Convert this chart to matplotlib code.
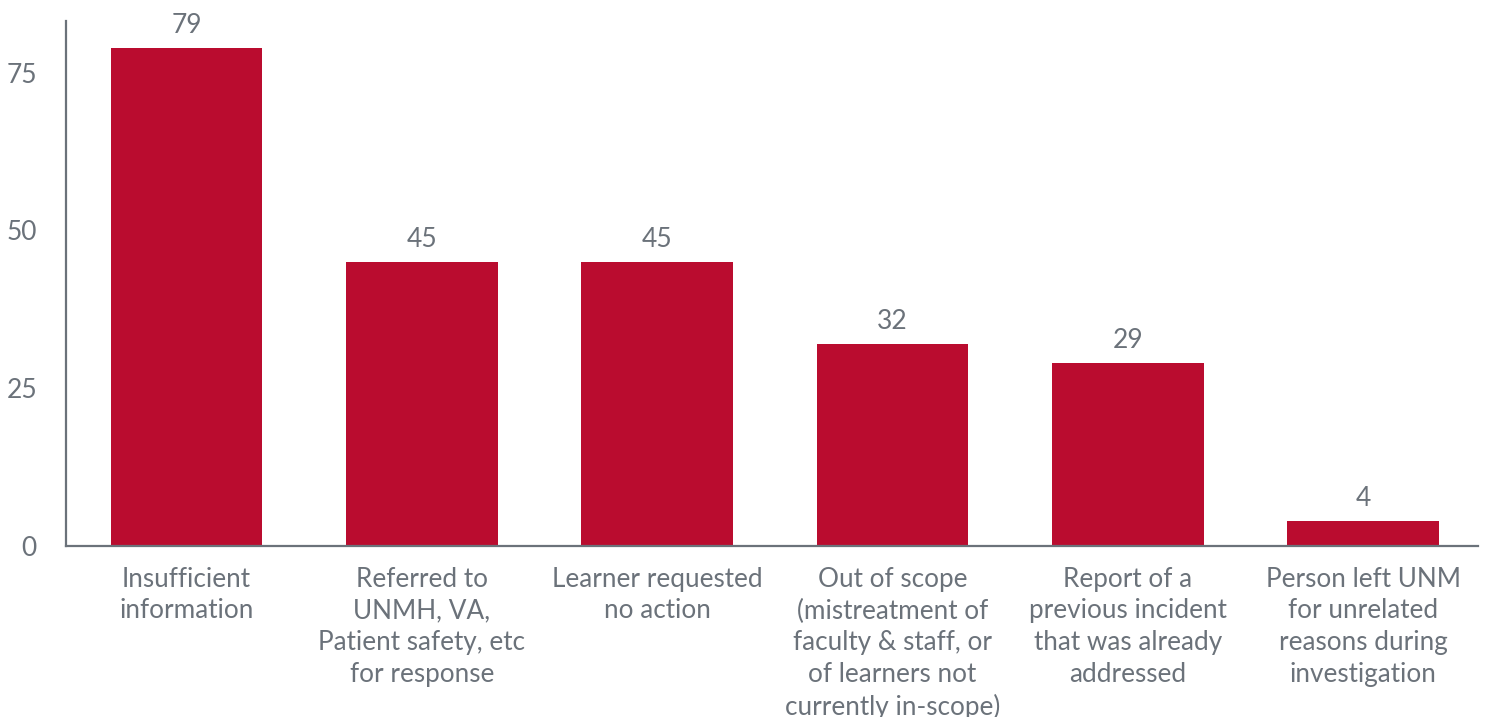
import matplotlib.pyplot as plt
import numpy as np

plt.rcParams['font.family'] = ['Lato', 'DejaVu Sans']

categories = [
    'Insufficient\ninformation',
    'Referred to\nUNMH, VA,\nPatient safety, etc\nfor response',
    'Learner requested\nno action',
    'Out of scope\n(mistreatment of\nfaculty & staff, or\nof learners not\ncurrently in-scope)',
    'Report of a\nprevious incident\nthat was already\naddressed',
    'Person left UNM\nfor unrelated\nreasons during\ninvestigation',
]
counts = [79, 45, 45, 32, 29, 4]
yticks = [0, 25, 50, 75]

bar_color = '#BA0C2F'
text_color = '#6B727A'

fig = plt.figure(figsize=(14.88, 7.17), dpi=100)
ax = fig.add_axes([0.0444, 0.2385, 0.9489, 0.7322])

x = np.arange(len(categories))
bars = ax.bar(x, counts, width=0.645, color=bar_color)

for b, v in zip(bars, counts):
    ax.annotate(str(v), (b.get_x() + b.get_width() / 2, v),
                xytext=(0, 7), textcoords='offset points',
                ha='center', va='bottom', fontsize=19, color=text_color)

ax.set_xlim(-0.512, 5.488)
ax.set_ylim(0, 83.2)
ax.set_yticks(yticks)
ax.set_xticks(x)
ax.set_xticklabels(categories, fontsize=18.8, color=text_color, linespacing=1.33)
ax.tick_params(axis='y', length=0, pad=21, labelsize=19, labelcolor=text_color)
ax.tick_params(axis='x', length=0, pad=15)

for side in ['top', 'right']:
    ax.spines[side].set_visible(False)
for side in ['left', 'bottom']:
    ax.spines[side].set_color(text_color)
    ax.spines[side].set_linewidth(1.6)

fig.savefig('out.png', dpi=100)
